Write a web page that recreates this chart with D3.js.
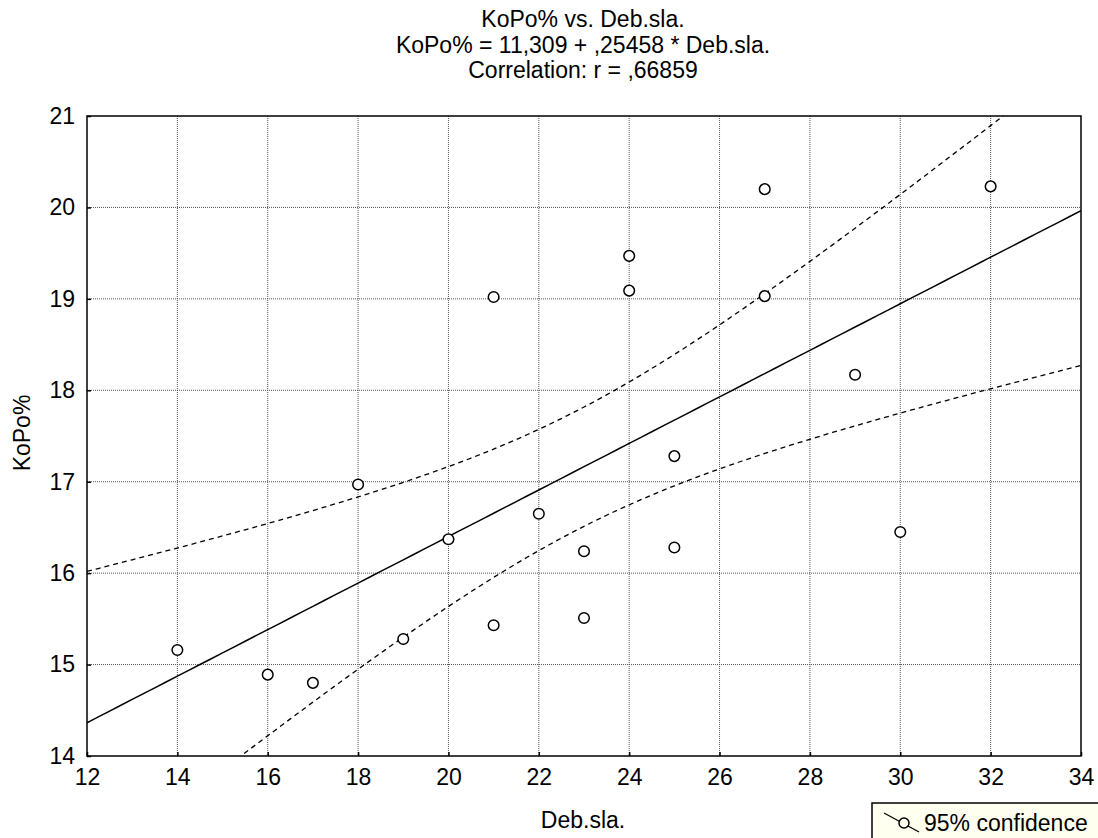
<!DOCTYPE html>
<html>
<head>
<meta charset="utf-8">
<script src="https://cdn.jsdelivr.net/npm/d3@7/dist/d3.min.js"></script>
<style>
	body { margin: 0; background: #fff; }
	text { font-family: "Liberation Sans", Arial, sans-serif; fill: #000; }
</style>
</head>
<body>
<svg id="chart" width="1098" height="838"></svg>
<script>
// values
const debSla = [14, 16, 17, 18, 19, 20, 21, 21, 22, 23, 23, 24, 24, 25, 25, 27, 27, 29, 30, 32];
const koPo = [15.16, 14.89, 14.80, 16.97, 15.28, 16.37, 19.02, 15.43, 16.65, 16.24, 15.51, 19.47, 19.09, 17.28, 16.28, 20.20, 19.03, 18.17, 16.45, 20.23];
const xTicks = [12, 14, 16, 18, 20, 22, 24, 26, 28, 30, 32, 34];
const yTicks = [14, 15, 16, 17, 18, 19, 20, 21];
const titleLines = ['KoPo% vs. Deb.sla.', 'KoPo% = 11,309 + ,25458 * Deb.sla.', 'Correlation: r = ,66859'];
const intercept = 11.309;
const slope = 0.25458;
const tCrit = 2.1009; // t(0.975, df = 18)

const fontSize = '23px';
const svg = d3.select('#chart');
const margin = { left: 87, top: 116, right: 17, bottom: 82 };
const width = 1098 - margin.left - margin.right;
const height = 838 - margin.top - margin.bottom;

const x = d3.scaleLinear().domain([12, 34]).range([0, width]);
const y = d3.scaleLinear().domain([14, 21]).range([height, 0]);

const plot = svg.append('g').attr('transform', `translate(${margin.left},${margin.top})`);

// clip for lines that leave the box
svg.append('defs').append('clipPath').attr('id', 'clip')
	.append('rect').attr('width', width).attr('height', height);

// grid
plot.append('g').selectAll('line').data(xTicks.slice(1, -1)).join('line')
	.attr('x1', (d) => x(d)).attr('x2', (d) => x(d))
	.attr('y1', 0).attr('y2', height)
	.attr('stroke', '#555').attr('stroke-width', 1).attr('stroke-dasharray', '1,1');
plot.append('g').selectAll('line').data(yTicks.slice(1, -1)).join('line')
	.attr('y1', (d) => y(d)).attr('y2', (d) => y(d))
	.attr('x1', 0).attr('x2', width)
	.attr('stroke', '#555').attr('stroke-width', 1).attr('stroke-dasharray', '1,1');

// axes, ticks point inwards
const xAxis = plot.append('g').attr('transform', `translate(0,${height})`)
	.call(d3.axisBottom(x).tickValues(xTicks).tickSize(-4).tickPadding(13).tickFormat(d3.format('d')));
const yAxis = plot.append('g')
	.call(d3.axisLeft(y).tickValues(yTicks).tickSize(-4).tickPadding(12).tickFormat(d3.format('d')));
[xAxis, yAxis].forEach(function(ax) {
	ax.select('.domain').remove();
	ax.selectAll('line').attr('stroke', '#000').attr('stroke-width', 1.5);
	ax.selectAll('text').style('font-size', fontSize).style('font-family', '"Liberation Sans", Arial, sans-serif');
});

// regression line and 95% confidence band
const n = debSla.length;
const xMean = d3.mean(debSla);
const sxx = d3.sum(debSla, (d) => (d - xMean) * (d - xMean));
const sse = d3.sum(debSla, (d, i) => Math.pow(koPo[i] - (intercept + slope * d), 2));
const se = Math.sqrt(sse / (n - 2));
const xs = d3.range(12, 34.01, 0.25);
const fit = (v) => intercept + slope * v;
const half = (v) => tCrit * se * Math.sqrt(1 / n + (v - xMean) * (v - xMean) / sxx);

const line = d3.line().x((d) => x(d.x)).y((d) => y(d.y));
const lines = plot.append('g').attr('clip-path', 'url(#clip)');
lines.append('path')
	.attr('d', line(xs.map((v) => ({ x: v, y: fit(v) }))))
	.attr('fill', 'none').attr('stroke', '#000').attr('stroke-width', 1.5);
[1, -1].forEach(function(sign) {
	lines.append('path')
		.attr('d', line(xs.map((v) => ({ x: v, y: fit(v) + sign * half(v) }))))
		.attr('fill', 'none').attr('stroke', '#000').attr('stroke-width', 1.3)
		.attr('stroke-dasharray', '5,4');
});

// points
plot.append('g').selectAll('circle').data(debSla).join('circle')
	.attr('cx', (d) => x(d)).attr('cy', (d, i) => y(koPo[i])).attr('r', 5.3)
	.attr('fill', '#fff').attr('stroke', '#000').attr('stroke-width', 1.5);

// frame
plot.append('rect').attr('width', width).attr('height', height)
	.attr('fill', 'none').attr('stroke', '#000').attr('stroke-width', 1.5);

// titles
svg.append('g').selectAll('text').data(titleLines).join('text')
	.attr('x', 583).attr('y', (d, i) => 27 + i * 25.5)
	.attr('text-anchor', 'middle').style('font-size', fontSize)
	.text((d) => d);

svg.append('text').attr('x', 583).attr('y', 828).attr('text-anchor', 'middle')
	.style('font-size', fontSize).text('Deb.sla.');
svg.append('text').attr('transform', 'translate(30,433) rotate(-90)').attr('text-anchor', 'middle')
	.style('font-size', fontSize).text('KoPo%');

// legend
const legend = svg.append('g').attr('transform', 'translate(872,803)');
legend.append('rect').attr('width', 240).attr('height', 50)
	.attr('fill', '#fffff0').attr('stroke', '#000').attr('stroke-width', 1.5);
legend.append('line').attr('x1', 12).attr('y1', 10).attr('x2', 47).attr('y2', 29)
	.attr('stroke', '#000').attr('stroke-width', 1.3);
legend.append('circle').attr('cx', 32).attr('cy', 20).attr('r', 5)
	.attr('fill', '#fffff0').attr('stroke', '#000').attr('stroke-width', 1.5);
legend.append('text').attr('x', 52).attr('y', 28).style('font-size', fontSize).text('95% confidence');
</script>
</body>
</html>
